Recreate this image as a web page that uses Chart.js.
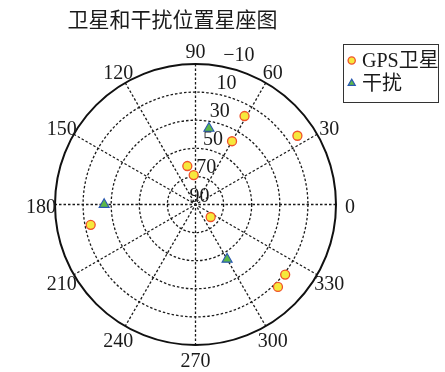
<!DOCTYPE html>
<html>
<head>
<meta charset="utf-8">
<script src="https://cdn.jsdelivr.net/npm/chart.js@4/dist/chart.umd.min.js"></script>
<style>
  html, body { margin: 0; padding: 0; background: #fff; }
  #wrap { width: 445px; height: 372px; }
</style>
</head>
<body>
<div id="wrap"><canvas id="c" width="445" height="372"></canvas></div>
<script>
// Sky plot: azimuth in degrees (counter-clockwise from east), elevation in degrees
const titleText = '卫星和干扰位置星座图';
const seriesNames = ['GPS卫星', '干扰'];

const gpsAzimuth   = [61, 60, 102, 93.5, 320.5, 34, 191, 322, 315];
const gpsElevation = [18, 38, 62, 69, 76, 2.5, 14, 9, 7];

const jamAzimuth   = [80, 180, 300];
const jamElevation = [35, 25, 45];

// Ring (elevation) tick labels, from outer edge to centre
const ringTicks = [-10, 10, 30, 50, 70, 90];
// Spoke (azimuth) tick labels
const spokeTicks = [0, 30, 60, 90, 120, 150, 180, 210, 240, 270, 300, 330];

const EL_TOP = 90;          // elevation at the centre
const R_MAX = EL_TOP - ringTicks[0]; // radial extent in data units (100)

function toXY(az, el) {
  return az.map((a, i) => {
    const r = EL_TOP - el[i];
    const t = a * Math.PI / 180;
    return { x: r * Math.cos(t), y: r * Math.sin(t) };
  });
}

const numFont = '20px "Liberation Serif", "Noto Sans CJK SC", serif';
const fmtTick = v => String(v).replace('-', '\u2212');

const polarGrid = {
  id: 'polarGrid',
  beforeDatasetsDraw(chart) {
    const { ctx, scales: { x, y } } = chart;
    const cx = x.getPixelForValue(0), cy = y.getPixelForValue(0);
    const R = x.getPixelForValue(R_MAX) - cx;
    const rp = el => (EL_TOP - el) / R_MAX * R;
    ctx.save();
    // dotted spokes through the centre
    ctx.strokeStyle = '#1a1a1a';
    ctx.lineWidth = 1.3;
    ctx.setLineDash([2.5, 2]);
    for (let a = 0; a < 180; a += 30) {
      const t = a * Math.PI / 180;
      ctx.beginPath();
      ctx.moveTo(cx + R * Math.cos(t), cy - R * Math.sin(t));
      ctx.lineTo(cx - R * Math.cos(t), cy + R * Math.sin(t));
      ctx.stroke();
    }
    // dotted elevation rings
    ringTicks.slice(1, -1).forEach(el => {
      ctx.beginPath();
      ctx.arc(cx, cy, rp(el), 0, Math.PI * 2);
      ctx.stroke();
    });
    // solid outer ring
    ctx.setLineDash([]);
    ctx.lineWidth = 2;
    ctx.strokeStyle = '#111';
    ctx.beginPath();
    ctx.arc(cx, cy, R, 0, Math.PI * 2);
    ctx.stroke();

    // text
    ctx.fillStyle = '#1a1a1a';
    ctx.font = numFont;
    // azimuth labels
    ctx.textAlign = 'center';
    ctx.textBaseline = 'middle';
    const rl = R * 1.1;
    spokeTicks.forEach(a => {
      const t = a * Math.PI / 180;
      ctx.fillText(String(a), cx + rl * Math.cos(t), cy - rl * Math.sin(t) + 3);
    });
    // elevation labels
    ctx.textAlign = 'left';
    ctx.textBaseline = 'alphabetic';
    ringTicks.forEach(el => {
      const r = rp(el);
      ctx.fillText(fmtTick(el), cx - 6 + 0.24 * r, cy - 3 - r);
    });

    // title
    ctx.textAlign = 'center';
    ctx.textBaseline = 'middle';
    ctx.font = '21px "Noto Sans CJK SC", "Liberation Serif", sans-serif';
    ctx.fillText(titleText, 172.5, 19);
    ctx.restore();
  },
  afterDatasetsDraw(chart) {
    // legend box
    const { ctx } = chart;
    ctx.save();
    ctx.fillStyle = '#fff';
    ctx.fillRect(343, 44, 95, 58);
    ctx.strokeStyle = '#333';
    ctx.lineWidth = 1;
    ctx.strokeRect(343.5, 44.5, 95, 58);
    chart.data.datasets.forEach((ds, i) => {
      const yy = 60.5 + i * 22.8;
      ctx.fillStyle = ds.backgroundColor;
      ctx.strokeStyle = ds.borderColor;
      ctx.lineWidth = ds.borderWidth;
      Chart.helpers.drawPoint(ctx, {
        pointStyle: ds.pointStyle,
        radius: ds.pointStyle === 'triangle' ? 4.2 : 3.6,
        borderWidth: ds.borderWidth
      }, 351.7, yy);
      ctx.fillStyle = '#1a1a1a';
      ctx.font = numFont;
      ctx.textAlign = 'left';
      ctx.textBaseline = 'middle';
      ctx.fillText(ds.label, 362, yy + 1);
    });
    ctx.restore();
  }
};

new Chart(document.getElementById('c'), {
  type: 'scatter',
  data: {
    datasets: [
      {
        label: seriesNames[0],
        data: toXY(gpsAzimuth, gpsElevation),
        pointStyle: 'circle',
        pointRadius: 4.5,
        backgroundColor: '#f6e83c',
        borderColor: '#f0522b',
        borderWidth: 1.3
      },
      {
        label: seriesNames[1],
        data: toXY(jamAzimuth, jamElevation),
        pointStyle: 'triangle',
        pointRadius: 5.8,
        backgroundColor: '#5cb848',
        borderColor: '#2a58b0',
        borderWidth: 1.1
      }
    ]
  },
  options: {
    responsive: false,
    animation: false,
    events: [],
    layout: { padding: { left: 55, right: 109, top: 64, bottom: 27 } },
    scales: {
      x: { type: 'linear', min: -R_MAX, max: R_MAX, display: false },
      y: { type: 'linear', min: -R_MAX, max: R_MAX, display: false }
    },
    plugins: {
      legend: { display: false },
      title: { display: false },
      tooltip: { enabled: false }
    }
  },
  plugins: [polarGrid]
});
</script>
</body>
</html>
